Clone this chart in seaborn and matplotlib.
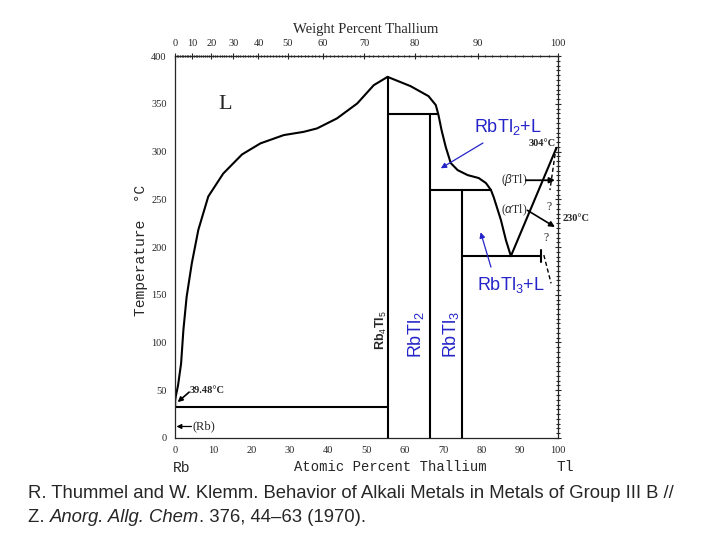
import numpy as np
import matplotlib
matplotlib.use('Agg')
import matplotlib.pyplot as plt
import seaborn as sns
from matplotlib.ticker import MultipleLocator

# ==================== DATA ====================
# liquidus, Rb side up to the Rb4Tl5 maximum
liq_rb_x = [0, 0.8, 1.6, 2.2, 3.05, 4.4, 6.1, 8.7, 12.6, 17.5, 22.3, 28.4, 33.6, 37.1, 42.3, 47.6, 51.9, 55.5]
liq_rb_t = [39.5, 55, 78, 113, 148, 183, 218, 253, 277, 297, 308.6, 317.3, 320.7, 324.3, 334.8, 350.5, 369.6, 378.3]
# liquidus from Rb4Tl5 maximum down to the eutectic
liq_mid_x = [55.5, 61.5, 66.2, 68.1, 68.8, 69.6, 70.7, 72.0, 73.8, 76.4, 79.3, 81.2, 82.5, 83.2, 85.1, 86.4, 87.7]
liq_mid_t = [378.3, 368.6, 358.1, 348.7, 338.2, 322.5, 304.7, 288, 280.6, 275.4, 272.3, 267, 259.7, 252.4, 228.3, 207.3, 190.5]
# Tl-side branch: eutectic -> melting point of Tl
liq_tl_x = [87.7, 99.6]
liq_tl_t = [190.5, 304]

# compound lines (vertical)
comp_x = [55.5, 66.7, 75.0]
comp_top = [378.3, 339, 260]

# invariant horizontals
inv_t = [32, 339, 260, 190.5]
inv_x0 = [0, 55.5, 66.7, 75.0]
inv_x1 = [55.5, 68.8, 82.5, 95.5]

# dashed (uncertain) lines near Tl
dash_up_x = [99.5, 97.9]
dash_up_t = [304.7, 259.7]
dash_lo_x = [96.3, 98.2]
dash_lo_t = [191.6, 162]

at_ticks = list(range(0, 101, 10))
wt_ticks = list(range(0, 101, 10))
t_ticks = list(range(0, 401, 50))

M_RB, M_TL = 85.468, 204.38


def at2wt(a):
    a = np.asarray(a, dtype=float)
    with np.errstate(divide='ignore', invalid='ignore'):
        return 100 * a * M_TL / (a * M_TL + (100 - a) * M_RB)


def wt2at(w):
    w = np.asarray(w, dtype=float)
    with np.errstate(divide='ignore', invalid='ignore'):
        return 100 * (w / M_TL) / (w / M_TL + (100 - w) / M_RB)


def arrow(ax, start, end, color='black', lw=1.2, size=8):
    ax.annotate('', xy=end, xytext=start,
                arrowprops=dict(arrowstyle='-|>', color=color, lw=lw, mutation_scale=size,
                                shrinkA=0, shrinkB=0))


# ==================== STYLE ====================
sns.set_style('white')
plt.rcParams['font.family'] = ['Liberation Sans', 'DejaVu Sans']
plt.rcParams['mathtext.fontset'] = 'custom'
plt.rcParams['mathtext.rm'] = 'Liberation Sans'
plt.rcParams['mathtext.it'] = 'Liberation Sans:italic'

BLUE = '#2424c8'
LW = 1.5

fig = plt.figure(figsize=(7.2, 5.4), dpi=100)
ax = fig.add_axes([0.243, 0.189, 0.532, 0.707])

kw = dict(color='black', linewidth=LW, sort=False, estimator=None, ax=ax, legend=False)
sns.lineplot(x=liq_rb_x, y=liq_rb_t, **kw)
sns.lineplot(x=liq_mid_x, y=liq_mid_t, **kw)
sns.lineplot(x=liq_tl_x, y=liq_tl_t, **kw)
for cx, ct in zip(comp_x, comp_top):
    sns.lineplot(x=[cx, cx], y=[0, ct], **kw)
for t, x0, x1 in zip(inv_t, inv_x0, inv_x1):
    sns.lineplot(x=[x0, x1], y=[t, t], **kw)
# end tick of the eutectic line
sns.lineplot(x=[inv_x1[-1], inv_x1[-1]], y=[184, 197], **kw)
sns.lineplot(x=dash_up_x, y=dash_up_t, color='black', linewidth=1.0, linestyle=(0, (3, 2)),
             sort=False, estimator=None, ax=ax)
sns.lineplot(x=dash_lo_x, y=dash_lo_t, color='black', linewidth=1.0, linestyle=(0, (3, 2)),
             sort=False, estimator=None, ax=ax)
# melting point of Rb
sns.lineplot(x=[0.3, 0.3], y=[33, 44], color='black', linewidth=3.5, ax=ax)

ax.set_xlim(0, 100)
ax.set_ylim(0, 400)
ax.set_xticks(at_ticks)
ax.set_yticks(t_ticks)
ax.xaxis.set_minor_locator(MultipleLocator(2))
ax.yaxis.set_minor_locator(MultipleLocator(5))
ax.tick_params(which='both', direction='inout', labelsize=7.5, width=0.8,
               right=True, labelfontfamily='Liberation Serif')
ax.tick_params(which='major', length=5)
ax.tick_params(which='minor', length=2.5)
ax.set_xlabel('')
ax.set_ylabel('')
for s in ax.spines.values():
    s.set_linewidth(0.9)
ax.spines['top'].set_linestyle((0, (1, 1)))
ax.spines['right'].set_linestyle((0, (1, 1)))

top = ax.secondary_xaxis('top', functions=(at2wt, wt2at))
top.set_xticks(wt_ticks)
top.xaxis.set_minor_locator(MultipleLocator(1))
top.tick_params(which='both', direction='inout', labelsize=7.5, width=0.8,
                labelfontfamily='Liberation Serif')
top.tick_params(which='major', length=5)
top.tick_params(which='minor', length=2)

# ==================== ANNOTATIONS ====================
ax.text(13, 349, 'L', fontsize=16, family='Liberation Serif', ha='center', va='center')
ax.text(54.0, 113, 'Rb$_4$Tl$_5$', rotation=90, fontsize=9, fontweight='bold',
        ha='center', va='center')
ax.text(62.8, 108, 'RbTl$_2$', rotation=90, fontsize=13, color=BLUE, ha='center', va='center')
ax.text(72.0, 108, 'RbTl$_3$', rotation=90, fontsize=13, color=BLUE, ha='center', va='center')

ax.text(87.0, 326, 'RbTl$_2$+L', fontsize=13, color=BLUE, ha='center', va='center')
arrow(ax, (80.4, 309), (69.4, 282.5), color=BLUE, lw=0.9, size=8)
ax.text(87.7, 160, 'RbTl$_3$+L', fontsize=13, color=BLUE, ha='center', va='center')
arrow(ax, (82.5, 179), (79.8, 215.5), color=BLUE, lw=0.9, size=8)

serif = dict(family='Liberation Serif', fontsize=7.5, fontweight='bold')
ax.text(3.9, 50, '39.48°C', ha='left', va='center', **serif)
arrow(ax, (3.7, 48), (0.7, 37.5), lw=1.2, size=7)
ax.text(4.6, 12, '(Rb)', ha='left', va='center', family='Liberation Serif', fontsize=9)
arrow(ax, (4.3, 12), (0.4, 12), lw=0.9, size=7)
ax.text(88.5, 270, '($\\beta$Tl)', ha='center', va='center',
        family='Liberation Serif', fontsize=8.5)
arrow(ax, (91.6, 270), (99.2, 270), lw=1.3, size=8)
ax.text(88.5, 239, '($\\alpha$Tl)', ha='center', va='center',
        family='Liberation Serif', fontsize=8.5)
arrow(ax, (92.0, 238.5), (99.2, 221), lw=1.2, size=8)
ax.text(99.5, 309, '304°C', ha='right', va='center', **serif)
ax.text(101.3, 230, '230°C', ha='left', va='center', clip_on=False, **serif)
ax.text(97.6, 242, '?', ha='center', va='center', family='Liberation Serif', fontsize=8.5)
ax.text(96.9, 209, '?', ha='center', va='center', family='Liberation Serif', fontsize=8.5)

# axis titles as on the scan
fig.text(366 / 720, 1 - 29 / 540, 'Weight Percent Thallium', ha='center', va='center',
         family='Liberation Serif', fontsize=10.5)
fig.text(390 / 720, 1 - 467 / 540, 'Atomic Percent Thallium', ha='center', va='center',
         family='Liberation Mono', fontsize=10)
fig.text(182 / 720, 1 - 468 / 540, 'Rb', ha='center', va='center',
         family='Liberation Mono', fontsize=10.5)
fig.text(565 / 720, 1 - 467 / 540, 'Tl', ha='center', va='center',
         family='Liberation Mono', fontsize=10.5)
fig.text(141 / 720, 1 - 250 / 540, 'Temperature  °C', rotation=90, ha='center', va='center',
         family='Liberation Mono', fontsize=10.5)

# citation, with the journal name in italics
cite_size = 13.3
fig.text(28 / 720, 1 - 493 / 540,
         'R. Thummel and W. Klemm. Behavior of Alkali Metals in Metals of Group III B //',
         ha='left', va='center', fontsize=cite_size)
renderer = fig.canvas.get_renderer()
x_pos = 28 / 720
y2 = 1 - 518 / 540
for part, style in [('Z. ', 'normal'), ('Anorg. Allg. Chem', 'italic'),
                    ('. 376, 44–63 (1970).', 'normal')]:
    t = fig.text(x_pos, y2, part, ha='left', va='center', fontsize=cite_size, style=style)
    bb = t.get_window_extent(renderer=renderer)
    x_pos += bb.width / fig.bbox.width

fig.savefig('out.png', dpi=100)
